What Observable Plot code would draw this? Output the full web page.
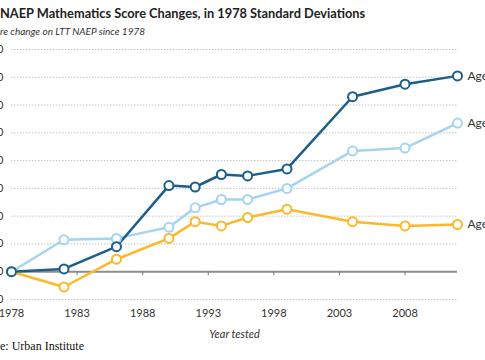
<!DOCTYPE html>
<html>
<head>
<meta charset="utf-8">
<script src="https://cdn.jsdelivr.net/npm/d3@7"></script>
<script src="https://cdn.jsdelivr.net/npm/@observablehq/plot@0.6"></script>
<style>
  html, body { margin: 0; padding: 0; background: #fff; }
  #wrap { position: relative; width: 485px; height: 360px; overflow: hidden; background: #fff; }
  #title { position: absolute; left: 0; top: 7px; font: bold 12.8px Lato, sans-serif; line-height: 1; color: #222; white-space: nowrap; }
  #sub { position: absolute; left: 0; top: 26px; font: italic 10px Lato, sans-serif; line-height: 1; color: #333; white-space: nowrap; }
  #chart { position: absolute; left: -29px; top: 40px; width: 560px; height: 300px; }
  #chart svg { max-width: none !important; width: 560px; height: 300px; }
  #cap { position: absolute; left: 0; top: 340px; font: 12px "Liberation Serif", serif; line-height: 1; color: #111; white-space: nowrap; }
  #chart g[aria-label="x-axis label"] text { font-style: italic; }
</style>
</head>
<body>
<div id="wrap">
  <div id="title">NAEP Mathematics Score Changes, in 1978 Standard Deviations</div>
  <div id="sub"><span id="subPre">Sco</span>re change on LTT NAEP since 1978</div>
  <div id="chart"></div>
  <div id="cap"><span id="capPre">Sourc</span>e: Urban Institute</div>
</div>
<script>
const years = [1978, 1982, 1986, 1990, 1992, 1994, 1996, 1999, 2004, 2008, 2012];
const age9  = [0, 0.01, 0.09, 0.31, 0.305, 0.35, 0.345, 0.37, 0.63, 0.675, 0.705];
const age13 = [0, 0.115, 0.12, 0.16, 0.23, 0.26, 0.26, 0.30, 0.435, 0.445, 0.535];
const age17 = [0, -0.055, 0.045, 0.12, 0.18, 0.165, 0.195, 0.225, 0.18, 0.165, 0.17];
const seriesNames = ["Age 9", "Age 13", "Age 17"];
const seriesColors = ["#1b5e8c", "#a6d3ef", "#fcb829"];
const xTicks = [1978, 1983, 1988, 1993, 1998, 2003, 2008];
const yTicks = [-0.1, 0, 0.1, 0.2, 0.3, 0.4, 0.5, 0.6, 0.7, 0.8];

const seriesValues = {"Age 9": age9, "Age 13": age13, "Age 17": age17};
const drawOrder = ["Age 17", "Age 13", "Age 9"];
const rows = [];
for (const s of drawOrder) {
  years.forEach((yr, i) => rows.push({year: yr, value: seriesValues[s][i], series: s}));
}
const lastRows = rows.filter(d => d.year === years[years.length - 1]);

const chart = Plot.plot({
  width: 560,
  height: 300,
  marginLeft: 40,
  marginRight: 74,
  marginTop: 9,
  marginBottom: 41,
  style: {fontFamily: "Lato, sans-serif", fontSize: "11px", color: "#333", background: "transparent"},
  x: {type: "linear", domain: [1978, 2012]},
  y: {domain: [-0.1, 0.8]},
  color: {domain: seriesNames, range: seriesColors},
  marks: [
    Plot.gridY(yTicks, {stroke: "#c4c4c4", strokeOpacity: 1, strokeDasharray: "1.5,1.5"}),
    Plot.ruleY([0], {stroke: "#8e8e8e", strokeWidth: 2}),
    Plot.ruleX(xTicks.slice(1), {x: d => d, y1: () => 0, y2: () => 0, insetBottom: -4, stroke: "#777", strokeWidth: 1}),
    Plot.axisY(yTicks, {tickFormat: ".2f", tickSize: 0, tickPadding: 8, fontSize: 11, label: null}),
    Plot.axisX(xTicks, {tickFormat: "d", tickSize: 0, tickPadding: 10, fontSize: 11, label: "Year tested", labelAnchor: "center", labelArrow: "none"}),
    Plot.line(rows, {x: "year", y: "value", z: "series", stroke: "series", strokeWidth: 2.5}),
    Plot.dot(rows, {x: "year", y: "value", stroke: "series", fill: "white", r: 4.5, strokeWidth: 2}),
    Plot.text(lastRows, {x: "year", y: "value", text: "series", dx: 10, textAnchor: "start", fill: "#333", fontSize: 12})
  ]
});
document.getElementById("chart").appendChild(chart);

// shift the cropped-off prefixes out of view, as in the reference
const sub = document.getElementById("sub");
sub.style.left = -document.getElementById("subPre").getBoundingClientRect().width + "px";
const cap = document.getElementById("cap");
cap.style.left = -document.getElementById("capPre").getBoundingClientRect().width + "px";
</script>
</body>
</html>
